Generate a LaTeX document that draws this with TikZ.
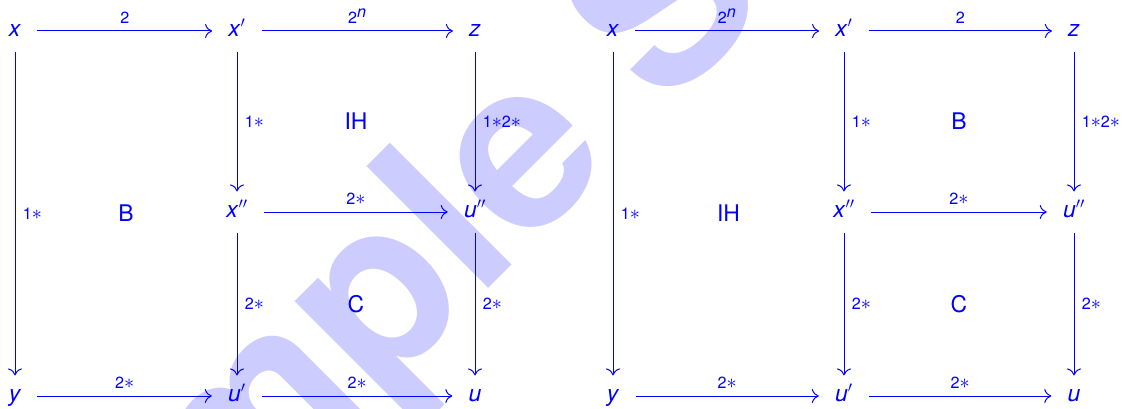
\documentclass[tikz,border=0pt]{standalone}
\usepackage{fontspec}
\setmainfont{TeX Gyre Heros}
\usetikzlibrary{arrows.meta,calc}
\definecolor{diagblue}{RGB}{0,0,255}
\definecolor{wmblue}{RGB}{204,204,255}
\newcommand{\objfont}{\fontsize{16.3}{19}\selectfont}
\newcommand{\labfont}{\fontsize{11.5}{13}\selectfont}
\newcommand{\wmfont}{\fontsize{168}{168}\selectfont\bfseries}
\newcommand{\mv}[1]{\textit{#1}}
\newcommand{\st}{{\fontsize{14.4}{15}\selectfont$\ast$}}
\tikzset{
  % --- objects of the diagrams ----------------------------------------
  obj/.style     ={font=\objfont, text=diagblue, inner xsep=11.4pt, inner ysep=6.7pt,
                   text height=11.8pt, text depth=3.6pt},
  cellname/.style={font=\objfont, text=diagblue},
  lab/.style     ={font=\labfont, text=diagblue, inner sep=5.2pt},
  % --- arrows ----------------------------------------------------------
  arrow/.style   ={-{Computer Modern Rightarrow[length=5pt, width=10pt]},
                   line width=0.7pt, draw=diagblue},
  % --- background stamp ------------------------------------------------
  wmtext/.style  ={font=\wmfont, text=wmblue, inner sep=0, anchor=base west, rotate=45},
}

\begin{document}
\begin{tikzpicture}
  \useasboundingbox (0,0) rectangle (28.15,10.225);

  % ============================ stamp behind everything ============================
  \begin{scope}
    \clip (0,0) rectangle (28.15,10.225);
    \node[wmtext] (stamp) at (0.55,-8.65) {Sample Solution};
  \end{scope}

  % ============================ left square ============================
  \node[obj] (lx)   at (0.375, 9.45)  {\mv{x}};
  \node[obj] (lxp)  at (5.925, 9.45)  {\mv{x}$'$};
  \node[obj] (lz)   at (11.875,9.45)  {\mv{z}};
  \node[obj] (lxpp) at (5.925, 4.925) {\mv{x}$''$};
  \node[obj] (lupp) at (11.875,4.925) {\mv{u}$''$};
  \node[obj] (ly)   at (0.375, 0.325) {\mv{y}};
  \node[obj] (lup)  at (5.925, 0.325) {\mv{u}$'$};
  \node[obj] (lu)   at (11.875,0.325) {\mv{u}};

  \draw[arrow] (lx)   -- node[lab, above]{2} (lxp);
  \draw[arrow] (lxp)  -- node[lab, above]{2$^{\textit{n}}$} (lz);
  \draw[arrow] (lx)   -- node[lab, right]{1\st} (ly);
  \draw[arrow] (lxp)  -- node[lab, right]{1\st} (lxpp);
  \draw[arrow] (lz)   -- node[lab, right]{1\st2\st} (lupp);
  \draw[arrow] (lxpp) -- node[lab, above]{2\st} (lupp);
  \draw[arrow] (lxpp) -- node[lab, right]{2\st} (lup);
  \draw[arrow] (lupp) -- node[lab, right]{2\st} (lu);
  \draw[arrow] (ly)   -- node[lab, above]{2\st} (lup);
  \draw[arrow] (lup)  -- node[lab, above]{2\st} (lu);

  \node[cellname] (lB)  at ($(lx)!0.5!(lup)$)    {B};
  \node[cellname] (lIH) at ($(lxp)!0.5!(lupp)$)  {IH};
  \node[cellname] (lC)  at ($(lxpp)!0.5!(lu)$)   {C};

  % ============================ right square ============================
  \node[obj] (rx)   at (15.325,9.45)  {\mv{x}};
  \node[obj] (rxp)  at (21.1,  9.45)  {\mv{x}$'$};
  \node[obj] (rz)   at (26.85, 9.45)  {\mv{z}};
  \node[obj] (rxpp) at (21.1,  4.925) {\mv{x}$''$};
  \node[obj] (rupp) at (26.85, 4.925) {\mv{u}$''$};
  \node[obj] (ry)   at (15.325,0.325) {\mv{y}};
  \node[obj] (rup)  at (21.1,  0.325) {\mv{u}$'$};
  \node[obj] (ru)   at (26.85, 0.325) {\mv{u}};

  \draw[arrow] (rx)   -- node[lab, above]{2$^{\textit{n}}$} (rxp);
  \draw[arrow] (rxp)  -- node[lab, above]{2} (rz);
  \draw[arrow] (rx)   -- node[lab, right]{1\st} (ry);
  \draw[arrow] (rxp)  -- node[lab, right]{1\st} (rxpp);
  \draw[arrow] (rz)   -- node[lab, right]{1\st2\st} (rupp);
  \draw[arrow] (rxpp) -- node[lab, above]{2\st} (rupp);
  \draw[arrow] (rxpp) -- node[lab, right]{2\st} (rup);
  \draw[arrow] (rupp) -- node[lab, right]{2\st} (ru);
  \draw[arrow] (ry)   -- node[lab, above]{2\st} (rup);
  \draw[arrow] (rup)  -- node[lab, above]{2\st} (ru);

  \node[cellname] (rIH) at ($(rx)!0.5!(rup)$)    {IH};
  \node[cellname] (rB)  at ($(rxp)!0.5!(rupp)$)  {B};
  \node[cellname] (rC)  at ($(rxpp)!0.5!(ru)$)   {C};

\end{tikzpicture}
\end{document}
